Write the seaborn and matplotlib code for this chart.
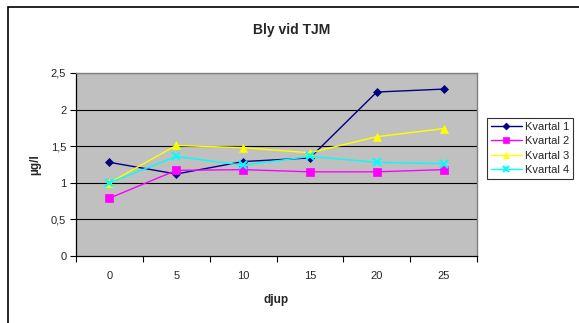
import matplotlib
matplotlib.use("Agg")
import matplotlib.pyplot as plt
from matplotlib.patches import Rectangle
from matplotlib.lines import Line2D
import seaborn as sns
import pandas as pd
import numpy as np

# Lead concentration per depth and quarter
depths = ["0", "5", "10", "15", "20", "25"]
kvartal_1 = [1.28, 1.12, 1.29, 1.34, 2.24, 2.28]
kvartal_2 = [0.79, 1.17, 1.18, 1.15, 1.15, 1.18]
kvartal_3 = [1.00, 1.51, 1.48, 1.41, 1.63, 1.74]
kvartal_4 = [1.00, 1.36, 1.24, 1.36, 1.28, 1.26]
series_names = ["Kvartal 1", "Kvartal 2", "Kvartal 3", "Kvartal 4"]
y_ticks = [0, 0.5, 1, 1.5, 2, 2.5]
y_tick_labels = ["0", "0,5", "1", "1,5", "2", "2,5"]

rows = []
for name, vals in zip(series_names, [kvartal_1, kvartal_2, kvartal_3, kvartal_4]):
    for i, (d, v) in enumerate(zip(depths, vals)):
        rows.append({"pos": i, "djup": d, "value": v, "serie": name})
df = pd.DataFrame(rows)

sns.set_theme(style="white")
plt.rcParams["font.family"] = ["Liberation Sans", "DejaVu Sans"]

colors = {"Kvartal 1": "#000080", "Kvartal 2": "#FF00FF",
          "Kvartal 3": "#FFFF00", "Kvartal 4": "#00FFFF"}
markers = {"Kvartal 1": "D", "Kvartal 2": "s", "Kvartal 3": "^", "Kvartal 4": "x"}
msizes = {"Kvartal 1": 4.5, "Kvartal 2": 5.5, "Kvartal 3": 6, "Kvartal 4": 5.5}

fig = plt.figure(figsize=(5.79, 3.23), dpi=100)
fig.patch.set_facecolor("white")

# chart frame
fig.add_artist(Rectangle((8 / 579, -0.05), 1.2, 1 - 7 / 323 + 0.05,
                         transform=fig.transFigure, fill=False,
                         edgecolor="black", linewidth=1.2))

ax = fig.add_axes([76 / 579, 1 - 256 / 323, (477 - 76) / 579, (256 - 73) / 323])
ax.set_facecolor("#C0C0C0")

for name in series_names:
    sub = df[df["serie"] == name]
    sns.lineplot(data=sub, x="pos", y="value", ax=ax, color=colors[name],
                 marker=markers[name], markersize=msizes[name],
                 markeredgecolor=colors[name],
                 markeredgewidth=1.5 if name == "Kvartal 4" else 0.5,
                 linewidth=1.0, legend=False, errorbar=None)

ax.set_xlim(-0.5, len(depths) - 0.5)
ax.set_ylim(0, 2.5)
ax.set_yticks(y_ticks)
ax.set_yticklabels(y_tick_labels, fontsize=8)
ax.set_xticks(range(len(depths)))
ax.set_xticklabels(depths, fontsize=8)
ax.set_xticks(np.arange(-0.5, len(depths), 1), minor=True)
ax.tick_params(axis="x", which="major", length=0, pad=11)
ax.tick_params(axis="x", which="minor", length=4, width=0.8, color="black", direction="out")
ax.tick_params(axis="y", length=4, width=0.8, color="black", direction="out", pad=3)
ax.xaxis.set_ticks_position("bottom")
ax.yaxis.set_ticks_position("left")

for yv in y_ticks[1:]:
    ax.axhline(yv, color="black", linewidth=0.8, zorder=0.5)

for side in ["top", "right"]:
    ax.spines[side].set_color("#808080")
    ax.spines[side].set_linewidth(1.0)
for side in ["left", "bottom"]:
    ax.spines[side].set_color("black")
    ax.spines[side].set_linewidth(0.9)

ax.set_xlabel("djup", fontsize=8.5, fontweight="bold", labelpad=9)
ax.set_ylabel("µg/l", fontsize=8.5, fontweight="bold", labelpad=7)
fig.text(292 / 579, 1 - 30 / 323, "Bly vid TJM", ha="center", va="center",
         fontsize=10, fontweight="bold")

handles = [Line2D([0], [0], color=colors[n], marker=markers[n],
                  markersize=msizes[n] - 1, markeredgecolor=colors[n],
                  markeredgewidth=1.5 if n == "Kvartal 4" else 0.5, linewidth=1.0)
           for n in series_names]
leg = fig.legend(handles, series_names, loc="upper left",
                 bbox_to_anchor=(487 / 579, 1 - 118 / 323),
                 fontsize=8, frameon=True, fancybox=False, handlelength=2.8,
                 handletextpad=0.3, borderpad=0.35, labelspacing=0.4,
                 borderaxespad=0)
leg.get_frame().set_edgecolor("black")
leg.get_frame().set_linewidth(0.8)

fig.savefig("out.png", dpi=100)
